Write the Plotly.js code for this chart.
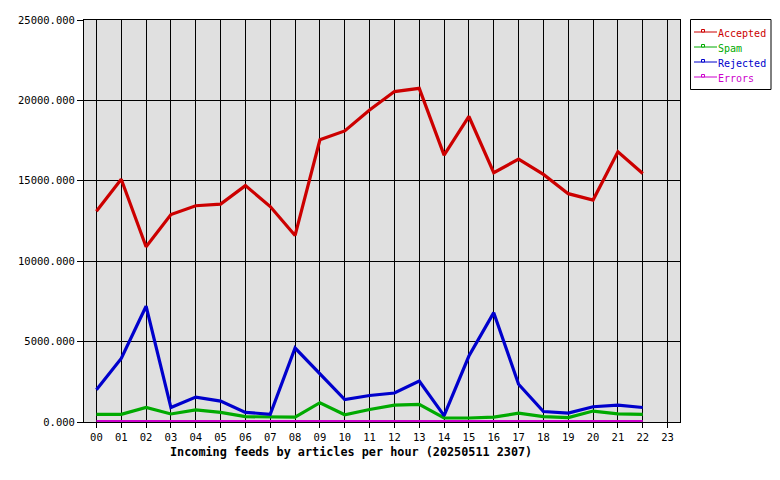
<!DOCTYPE html>
<html>
<head>
<meta charset="utf-8">
<script src="https://cdn.plot.ly/plotly-3.0.1.min.js"></script>
<style>
html,body{margin:0;padding:0;background:#fff;}
#chart{width:780px;height:480px;}
</style>
</head>
<body>
<div id="chart"></div>
<script>
var hours = [0,1,2,3,4,5,6,7,8,9,10,11,12,13,14,15,16,17,18,19,20,21,22];
var tickLabels = ["00","01","02","03","04","05","06","07","08","09","10","11","12","13","14","15","16","17","18","19","20","21","22","23"];
var accepted = [13100,15100,10900,12900,13450,13550,14700,13400,11600,17550,18100,19400,20550,20750,16600,19000,15500,16350,15400,14200,13800,16800,15450];
var spam = [480,480,900,500,750,600,330,300,300,1200,450,780,1050,1100,250,250,300,550,330,270,680,500,480];
var rejected = [2000,3950,7200,900,1550,1300,600,480,4600,3000,1400,1650,1800,2550,400,4100,6800,2350,650,550,950,1050,900];
var errors = [20,20,20,20,20,20,20,20,20,20,20,20,20,20,20,20,20,20,20,20,20,20,20];

var seriesNames = ["Accepted","Spam","Rejected","Errors"];
var seriesColors = ["#cc0000","#00aa00","#0000cc","#cc00cc"];
var seriesData = [accepted, spam, rejected, errors];
var chartTitle = "Incoming feeds by articles per hour (20250511 2307)";

var FONT = "DejaVu Sans Mono, Liberation Mono, monospace";
var W = 780, H = 480, ML = 84, MR = 100, MT = 20, MB = 58;
var PW = W - ML - MR, PH = H - MT - MB;
function px(x){ return (x - ML) / PW; }
function py(y){ return (H - MB - y) / PH; }

var traces = [];
for (var i = 0; i < seriesNames.length; i++) {
  traces.push({
    x: hours, y: seriesData[i], type: "scatter", mode: "lines",
    name: seriesNames[i],
    line: {color: seriesColors[i], width: 3.2}, showlegend: false, hoverinfo: "skip"
  });
}

// custom legend (box, line samples, labels)
var shapes = [{
  type: "rect", xref: "paper", yref: "paper",
  x0: px(690.5), x1: px(771), y0: py(89.5), y1: py(19.5),
  line: {color: "#000", width: 1}, fillcolor: "#ffffff", layer: "above"
}];
var annotations = [];
for (var j = 0; j < seriesNames.length; j++) {
  var ly = 32 + j * 15;
  shapes.push({
    type: "line", xref: "paper", yref: "paper",
    x0: px(694), x1: px(717), y0: py(ly), y1: py(ly),
    line: {color: seriesColors[j], width: 1}, layer: "above"
  });
  shapes.push({
    type: "rect", xref: "paper", yref: "paper",
    x0: px(701.5), x1: px(704.5), y0: py(ly), y1: py(ly - 2.5),
    line: {color: seriesColors[j], width: 1}, fillcolor: "#ffffff", layer: "above"
  });
  annotations.push({
    xref: "paper", yref: "paper", x: px(716), y: py(ly + 1), xanchor: "left", yanchor: "middle",
    text: seriesNames[j], showarrow: false,
    font: {family: FONT, size: 10, color: seriesColors[j]}
  });
}
annotations.push({
  xref: "paper", yref: "paper", x: px(351), y: py(452), xanchor: "center", yanchor: "middle",
  text: "<b>" + chartTitle + "</b>", showarrow: false,
  font: {family: FONT, size: 11.8, color: "#000"}
});

var tickPos = [];
for (var k = 0; k < tickLabels.length; k++) tickPos.push(k);

var layout = {
  width: W, height: H,
  margin: {l: ML, r: MR, t: MT, b: MB, autoexpand: false},
  paper_bgcolor: "#ffffff",
  plot_bgcolor: "#e0e0e0",
  font: {family: FONT, size: 10.5, color: "#000"},
  showlegend: false,
  shapes: shapes,
  annotations: annotations,
  xaxis: {
    range: [-0.5, 23.5], tickvals: tickPos, ticktext: tickLabels,
    showgrid: true, gridcolor: "#000", gridwidth: 1,
    showline: true, linecolor: "#000", linewidth: 1, mirror: true,
    ticks: "outside", ticklen: 5, tickcolor: "#000", zeroline: false,
    tickfont: {family: FONT, size: 10.5}
  },
  yaxis: {
    range: [0, 25000], tickvals: [0,5000,10000,15000,20000,25000], tickformat: ".3f",
    showgrid: true, gridcolor: "#000", gridwidth: 1,
    showline: true, linecolor: "#000", linewidth: 1, mirror: true,
    ticks: "outside", ticklen: 6, tickcolor: "#000", zeroline: false,
    tickfont: {family: FONT, size: 10.5}
  }
};
Plotly.newPlot("chart", traces, layout, {staticPlot: true, displayModeBar: false});
</script>
</body>
</html>
